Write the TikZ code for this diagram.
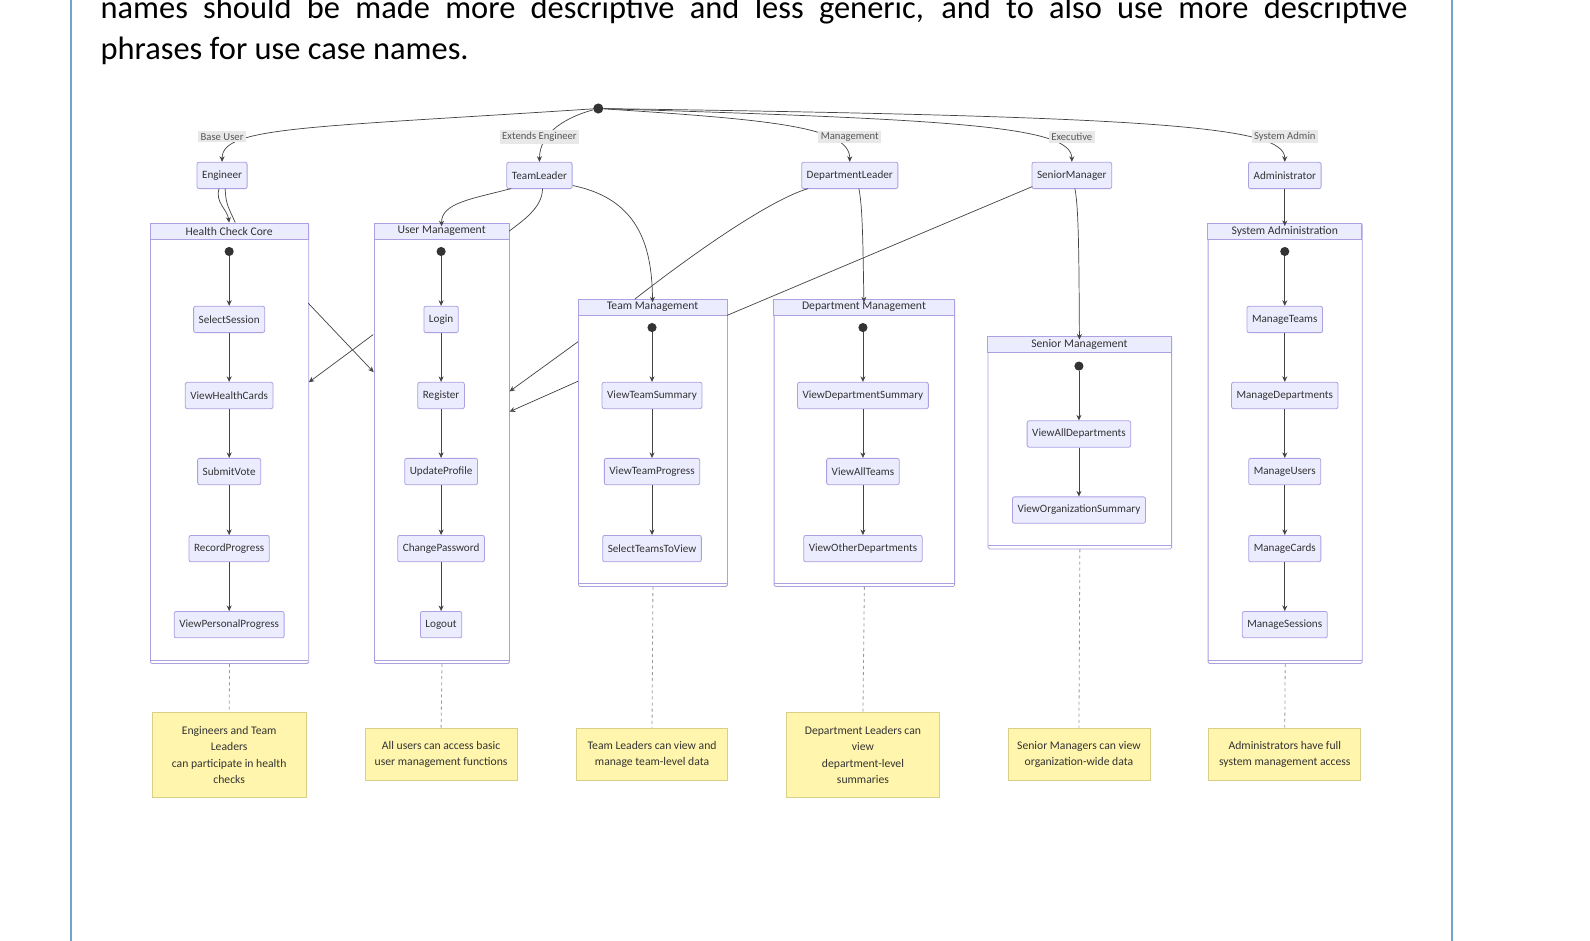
\documentclass[tikz,border=0pt]{standalone}
\usepackage{fontspec}
\setmainfont{Carlito}
\usetikzlibrary{arrows.meta,calc}
\definecolor{stfill}{HTML}{ECECFF}
\definecolor{stline}{HTML}{AC9FE2}
\definecolor{edgec}{HTML}{444444}
\definecolor{notefill}{HTML}{FFF5AD}
\definecolor{noteline}{HTML}{D8D088}
\definecolor{lblfill}{HTML}{E8E8E8}
\definecolor{txt}{HTML}{333333}
\definecolor{pageline}{HTML}{6FA6C9}
\newcommand\mkcluster[6]{%
  \node[clusterbox, anchor=north west, minimum width={#4-#2}, minimum height={#5-#3}] (#1) at (#2,#3) {};
  \draw[clusterhead] (#2,#3) rectangle (#4,#3+16);
  \node[ctitle] (#1t) at ({(#2+#4)/2},#3+8) {#6};
  \draw[stline, line width=0.8pt] (#2,#5-3) -- (#4,#5-3);
}
\begin{document}
\begin{tikzpicture}[x=1pt,y=-1pt,
 every node/.style={font=\fontsize{11}{13}\selectfont, text=txt},
 usecase/.style={draw=stline, fill=stfill, line width=0.8pt, rounded corners=2pt, minimum height=26pt, inner xsep=5pt, inner ysep=0pt},
 startdot/.style={circle, fill=txt, inner sep=0pt, minimum size=9pt},
 clusterbox/.style={draw=stline, fill=white, line width=0.8pt, rounded corners=1.5pt, inner sep=0pt},
 clusterhead/.style={draw=stline, fill=stfill, line width=0.8pt},
 ctitle/.style={inner sep=0pt, font=\fontsize{11.5}{13}\selectfont},
 conn/.style={draw=edgec, line width=0.7pt, -{Stealth[length=5.5pt,width=5pt]}},
 connplain/.style={draw=edgec, line width=0.7pt},
 lbl/.style={fill=lblfill, text=black!65, inner xsep=2.5pt, inner ysep=2pt, font=\fontsize{10.5}{12}\selectfont},
 notebox/.style={draw=noteline, fill=notefill, line width=0.8pt, align=center, inner sep=0pt, font=\fontsize{11.5}{16}\selectfont},
 notelink/.style={draw=black!40, line width=0.8pt, dash pattern=on 3pt off 3pt},
]
\useasboundingbox (0,0) rectangle (1568,927);
\fill[white] (0,0) rectangle (1568,927);

% page frame lines
\draw[pageline, line width=2.4pt] (70,-2) -- (70,929);
\draw[pageline, line width=2.4pt] (1432,-2) -- (1432,929);

% body text
\node[anchor=base west, inner sep=0pt, text=black, font=\fontsize{32}{38}\selectfont] (t1) at (99,18)
  {\makebox[1289pt][s]{names should be made more descriptive and less generic, and to also use more descriptive}};
\node[anchor=base west, inner sep=0pt, text=black, font=\fontsize{32}{38}\selectfont] (t2) at (99,59)
  {phrases for use case names.};

% clusters
\mkcluster{hcc}{148}{220}{304}{654}{Health Check Core}
\mkcluster{um}{369}{220}{502}{654}{User Management}
\mkcluster{tm}{570}{295}{717}{578}{Team Management}
\mkcluster{dm}{763}{295}{941}{578}{Department Management}
\mkcluster{sm}{974}{332}{1155}{541}{Senior Management}
\mkcluster{sa}{1191}{220}{1343}{654}{System Administration}

% start and actors
\node[startdot, minimum size=10pt] (start) at (590,107) {};
\node[usecase] (eng) at (219,173) {Engineer};
\node[usecase] (tl) at (532,173) {TeamLeader};
\node[usecase] (dl) at (838,173) {DepartmentLeader};
\node[usecase] (smgr) at (1057,173) {SeniorManager};
\node[usecase] (admin) at (1267,173) {Administrator};

% edges from start
\draw[conn] (start) .. controls (300,126) and (219,125) .. (eng.north);
\draw[conn] (start) .. controls (560,115) and (532,130) .. (tl.north);
\draw[conn] (start) .. controls (760,118) and (838,125) .. (dl.north);
\draw[conn] (start) .. controls (950,118) and (1057,125) .. (smgr.north);
\draw[conn] (start) .. controls (1150,115) and (1267,125) .. (admin.north);
\node[lbl] (lb1) at (219,135) {Base User};
\node[lbl] (lb2) at (532,135) {Extends Engineer};
\node[lbl] (lb3) at (838,135) {Management};
\node[lbl] (lb4) at (1057,135) {Executive};
\node[lbl] (lb5) at (1267,135) {System Admin};

% Health Check Core
\node[startdot] (h0) at (226,248) {};
\node[usecase] (h1) at (226,315) {SelectSession};
\node[usecase] (h2) at (226,390) {ViewHealthCards};
\node[usecase] (h3) at (226,465) {SubmitVote};
\node[usecase] (h4) at (226,541) {RecordProgress};
\node[usecase] (h5) at (226,616) {ViewPersonalProgress};
\draw[conn] (h0) -- (h1);
\draw[conn] (h1) -- (h2);
\draw[conn] (h2) -- (h3);
\draw[conn] (h3) -- (h4);
\draw[conn] (h4) -- (h5);

% User Management
\node[startdot] (u0) at (435,248) {};
\node[usecase] (u1) at (435,315) {Login};
\node[usecase] (u2) at (435,390) {Register};
\node[usecase] (u3) at (435,465) {UpdateProfile};
\node[usecase] (u4) at (435,541) {ChangePassword};
\node[usecase] (u5) at (435,616) {Logout};
\draw[conn] (u0) -- (u1);
\draw[conn] (u1) -- (u2);
\draw[conn] (u2) -- (u3);
\draw[conn] (u3) -- (u4);
\draw[conn] (u4) -- (u5);

% Team Management
\node[startdot] (m0) at (643,323) {};
\node[usecase] (m1) at (643,390) {ViewTeamSummary};
\node[usecase] (m2) at (643,465) {ViewTeamProgress};
\node[usecase] (m3) at (643,541) {SelectTeamsToView};
\draw[conn] (m0) -- (m1);
\draw[conn] (m1) -- (m2);
\draw[conn] (m2) -- (m3);

% Department Management
\node[startdot] (d0) at (851,323) {};
\node[usecase] (d1) at (851,390) {ViewDepartmentSummary};
\node[usecase] (d2) at (851,465) {ViewAllTeams};
\node[usecase] (d3) at (851,541) {ViewOtherDepartments};
\draw[conn] (d0) -- (d1);
\draw[conn] (d1) -- (d2);
\draw[conn] (d2) -- (d3);

% Senior Management
\node[startdot] (s0) at (1064,361) {};
\node[usecase] (s1) at (1064,428) {ViewAllDepartments};
\node[usecase] (s2) at (1064,503) {ViewOrganizationSummary};
\draw[conn] (s0) -- (s1);
\draw[conn] (s1) -- (s2);

% System Administration
\node[startdot] (a0) at (1267,248) {};
\node[usecase] (a1) at (1267,315) {ManageTeams};
\node[usecase] (a2) at (1267,390) {ManageDepartments};
\node[usecase] (a3) at (1267,465) {ManageUsers};
\node[usecase] (a4) at (1267,541) {ManageCards};
\node[usecase] (a5) at (1267,616) {ManageSessions};
\draw[conn] (a0) -- (a1);
\draw[conn] (a1) -- (a2);
\draw[conn] (a2) -- (a3);
\draw[conn] (a3) -- (a4);
\draw[conn] (a4) -- (a5);

% actor -> cluster connectors
\coordinate (engA) at (216,186);
\coordinate (engB) at (222,186);
\coordinate (hccTopA) at (226,219.5);
\coordinate (hccTopB) at (232,219.5);
\draw[conn] (engA) .. controls (212,200) and (224,206) .. (hccTopA);
\draw[connplain] (engB) .. controls (223,200) .. (hccTopB);
\coordinate (hccR1) at (304,299);
\coordinate (umL1) at (368.5,367);
\draw[conn] (hccR1) -- (umL1);

\coordinate (tlA) at (504,186);
\draw[conn] (tlA) .. controls (466,196) and (435,200) .. (umt.north);
\coordinate (tlB) at (535,186);
\coordinate (umTR) at (502,228);
\draw[connplain] (tlB) .. controls (535,205) and (515,218) .. (umTR);
\coordinate (umL2) at (368,330);
\coordinate (hccR2) at (304.5,377);
\draw[conn] (umL2) -- (hccR2);
\coordinate (tlC) at (565,183);
\draw[conn] (tlC) .. controls (628,196) and (643,240) .. (tmt.north);

\coordinate (dlA) at (797,186);
\coordinate (tmTop) at (626,295);
\draw[connplain] (dlA) .. controls (762,196) and (690,245) .. (tmTop);
\coordinate (tmL1) at (570,337);
\coordinate (umR1) at (502.5,386);
\draw[conn] (tmL1) -- (umR1);
\coordinate (dlB) at (847,186);
\draw[conn] (dlB) .. controls (851,205) and (851,250) .. (dmt.north);

\coordinate (smA) at (1018,184);
\coordinate (tmR) at (717,311);
\draw[connplain] (smA) -- (tmR);
\coordinate (tmL2) at (570,376);
\coordinate (umR2) at (502.5,406);
\draw[conn] (tmL2) -- (umR2);
\coordinate (smB) at (1060,186);
\draw[conn] (smB) .. controls (1064,205) and (1064,260) .. (smt.north);

\draw[conn] (admin) -- (sat.north);

% notes
\node[notebox, minimum width=152pt, minimum height=83pt] (n1) at (226,744.5) {Engineers and Team\\Leaders\\can participate in health\\checks};
\node[notebox, minimum width=150pt, minimum height=52pt] (n2) at (435,744) {All users can access basic\\user management functions};
\node[notebox, minimum width=149pt, minimum height=52pt] (n3) at (643,744) {Team Leaders can view and\\manage team-level data};
\node[notebox, minimum width=151pt, minimum height=83pt] (n4) at (851,744.5) {Department Leaders can\\view\\department-level\\summaries};
\node[notebox, minimum width=140pt, minimum height=52pt] (n5) at (1064,744) {Senior Managers can view\\organization-wide data};
\node[notebox, minimum width=150pt, minimum height=52pt] (n6) at (1267,744) {Administrators have full\\system management access};
\draw[notelink] (hcc.south) -- (n1.north);
\draw[notelink] (um.south) -- (n2.north);
\draw[notelink] (tm.south) -- (n3.north);
\draw[notelink] (dm.south) -- (n4.north);
\draw[notelink] (sm.south) -- (n5.north);
\draw[notelink] (sa.south) -- (n6.north);
\end{tikzpicture}
\end{document}
